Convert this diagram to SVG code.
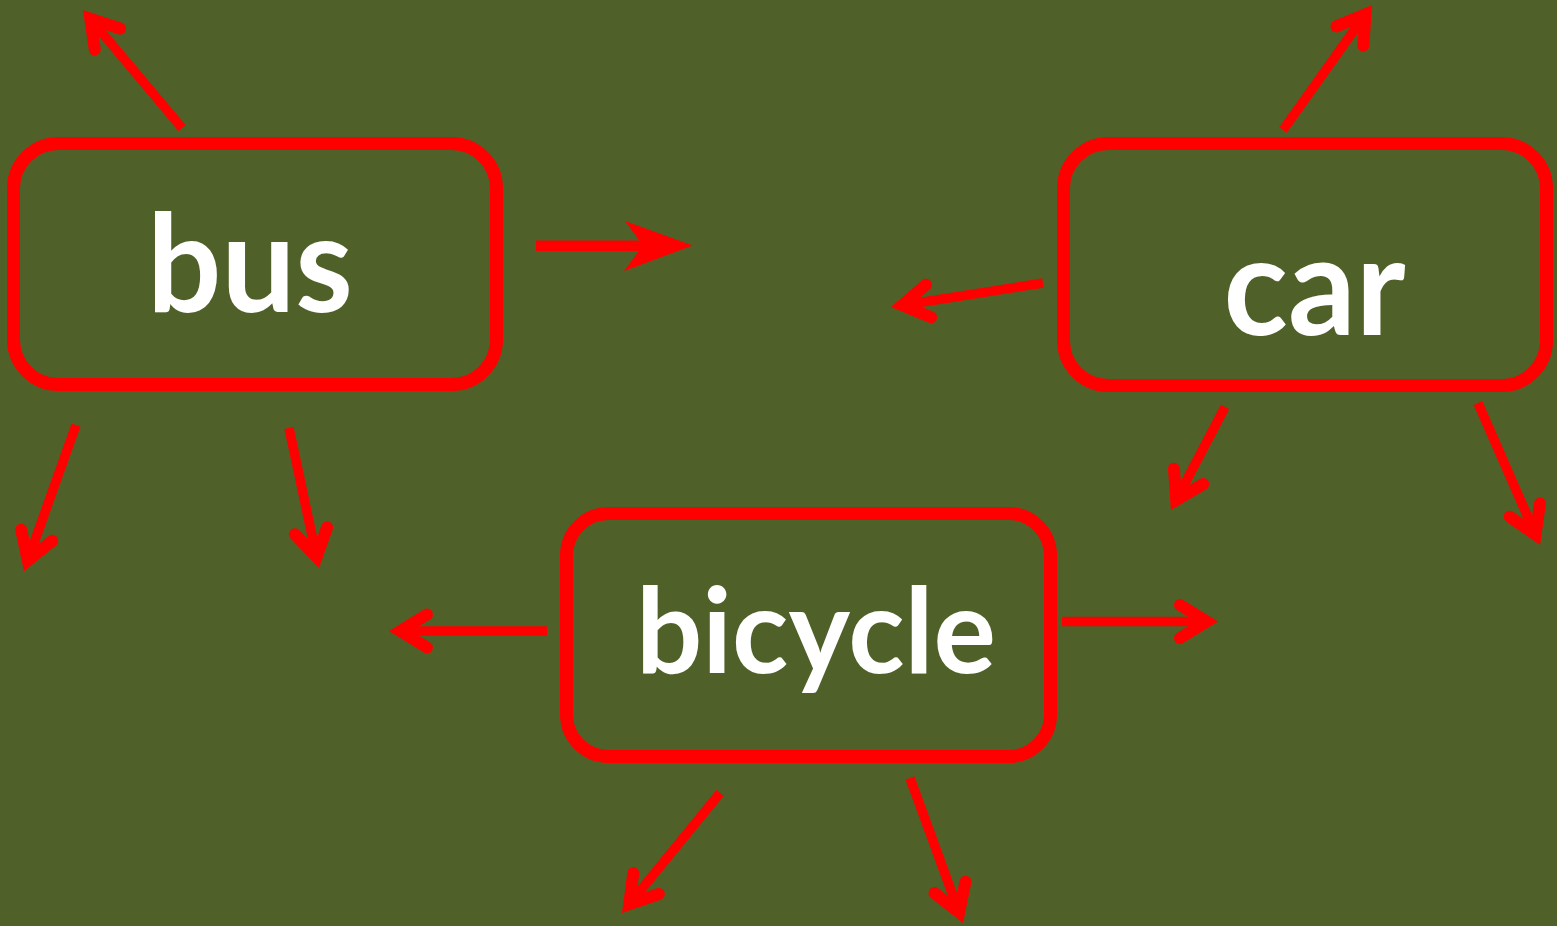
<svg xmlns="http://www.w3.org/2000/svg" width="1557" height="926" viewBox="0 0 1557 926">
  <style>
    .box { fill: none; stroke: #FF0000; stroke-width: 13; }
    .lbl { fill: #FFFFFF; font-family: Lato, "Open Sans", "Liberation Sans", sans-serif; font-weight: bold; text-anchor: middle; }
    .con { stroke: #FF0000; stroke-width: 9.5; fill: none; stroke-linecap: butt; marker-end: url(#v); }
  </style>
  <defs>
    <marker id="v" markerUnits="userSpaceOnUse" markerWidth="80" markerHeight="80" viewBox="-60 -40 80 80" refX="0" refY="0" orient="auto" overflow="visible">
      <path d="M-26.7,-16.5 L0,0 L-26.7,16.5" fill="none" stroke="#FF0000" stroke-width="12" stroke-linecap="round" stroke-linejoin="miter"/>
    </marker>
  </defs>
  <rect x="0" y="0" width="1557" height="926" fill="#4F6128"/>

  <g id="connectors">
    <line class="con" x1="182" y1="128" x2="90.3" y2="18.7"/>
    <line class="con" x1="76" y1="425" x2="27.8" y2="560.4"/>
    <line class="con" x1="289" y1="428" x2="316.6" y2="556.9"/>
    <line class="con" x1="1283" y1="130" x2="1365.4" y2="14.2"/>
    <line class="con" x1="1043" y1="283" x2="902.2" y2="305.2"/>
    <line class="con" x1="1225" y1="407" x2="1176.2" y2="500"/>
    <line class="con" x1="1478" y1="403" x2="1535.5" y2="534.6"/>
    <line class="con" x1="1062" y1="621.5" x2="1206.7" y2="621.5"/>
    <line class="con" x1="547" y1="631" x2="400.3" y2="631"/>
    <line class="con" x1="720" y1="793" x2="629.2" y2="904.2"/>
    <line class="con" x1="910" y1="778" x2="959.1" y2="912.4"/>
    <g id="bus-right-arrow">
      <rect x="536" y="240.5" width="110" height="10.5" fill="#FF0000"/>
      <polygon points="692.7,245.5 625,221 643,245.5 624,271" fill="#FF0000"/>
    </g>
  </g>

  <g id="node-bus">
    <rect class="box" x="13.5" y="143.5" width="483" height="241" rx="45" ry="45"/>
    <text class="lbl" x="250" y="312" font-size="136" textLength="206" lengthAdjust="spacingAndGlyphs">bus</text>
  </g>
  <g id="node-car">
    <rect class="box" x="1063.5" y="143.5" width="483" height="242" rx="45" ry="45"/>
    <text class="lbl" x="1314.5" y="335" font-size="138" textLength="182" lengthAdjust="spacingAndGlyphs">car</text>
  </g>
  <g id="node-bicycle">
    <rect class="box" x="566.5" y="513.5" width="484" height="243" rx="42" ry="42"/>
    <text class="lbl" x="816" y="673" font-size="119" textLength="360" lengthAdjust="spacingAndGlyphs">bicycle</text>
  </g>
</svg>
